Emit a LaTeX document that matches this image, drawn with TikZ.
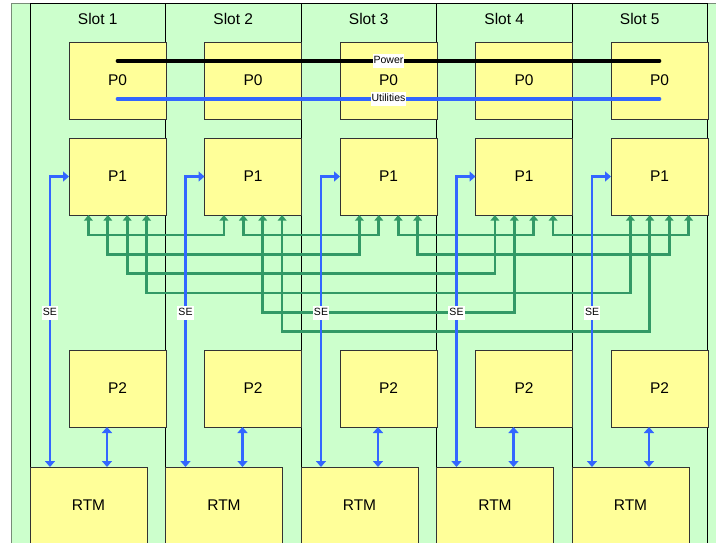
\documentclass[tikz,border=0pt]{standalone}
\usepackage{fontspec}
\setmainfont{Liberation Sans}
\usetikzlibrary{positioning}
\usetikzlibrary{arrows.meta}
\usetikzlibrary{calc}
\definecolor{figVerde}{RGB}{204,255,204}
\definecolor{figAmarillo}{RGB}{255,255,153}
\definecolor{figAzulBorde}{RGB}{51,102,255}
\definecolor{figVerdeBorde}{RGB}{51,153,102}
\definecolor{figGrisBorde}{RGB}{120,140,120}
\tikzset{
  chasis/.style={
    rectangle, draw=figGrisBorde, fill=figVerde, line width=0.8pt,
    minimum width=720pt, minimum height=560pt, inner sep=0pt, outer sep=0pt
  },
  ranura/.style={
    rectangle, draw=black, line width=0.7pt, fill=figVerde,
    minimum width=135.5pt, minimum height=560pt, inner sep=0pt, outer sep=0pt
  },
  titulo/.style={font=\fontsize{15.5}{18}\selectfont, inner sep=0pt},
  caja/.style={
    rectangle, draw=black!80, line width=0.7pt, fill=figAmarillo,
    minimum width=97pt, minimum height=77pt, inner sep=0pt, outer sep=0pt,
    font=\fontsize{15.5}{18}\selectfont
  },
  etiqueta/.style={
    fill=white, inner xsep=1pt, inner ysep=1.5pt, text height=8pt, text depth=2.5pt,
    font=\fontsize{10.5}{12}\selectfont
  },
  flecha/.style={{Triangle[length=6pt,width=10pt]}-{Triangle[length=6pt,width=10pt]},
    line width=2.7pt, draw=figAzulBorde},
  flechav/.style={{Triangle[length=5.5pt,width=8.5pt]}-{Triangle[length=5.5pt,width=8.5pt]},
    line width=2.7pt, draw=figVerdeBorde},
  bus/.style={line width=3.6pt, line cap=round}
}
\begin{document}
\begin{tikzpicture}[x=1pt, y=1pt]
  \useasboundingbox (0,0) rectangle (716,-542);
  % Bastidor y ranuras
  \node[chasis, anchor=north west] (bastidor) at (11,-3) {};
  \node[ranura, anchor=north west] (r1) at (30,-3) {};
  \node[ranura, right=0pt of r1] (r2) {};
  \node[ranura, right=0pt of r2] (r3) {};
  \node[ranura, right=0pt of r3] (r4) {};
  \node[ranura, right=0pt of r4] (r5) {};

  \node[titulo, below=10pt of r1.north] (t1) {Slot 1};
  \node[titulo, below=10pt of r2.north] (t2) {Slot 2};
  \node[titulo, below=10pt of r3.north] (t3) {Slot 3};
  \node[titulo, below=10pt of r4.north] (t4) {Slot 4};
  \node[titulo, below=10pt of r5.north] (t5) {Slot 5};

  % Fila P0 con alimentación y utilidades
  \node[caja, below right=39pt and 39pt of r1.north west] (p0a) {P0};
  \node[caja, right=38.5pt of p0a] (p0b) {P0};
  \node[caja, right=38.5pt of p0b] (p0c) {P0};
  \node[caja, right=38.5pt of p0c] (p0d) {P0};
  \node[caja, right=38.5pt of p0d] (p0e) {P0};

  \draw[bus, draw=black] ($(p0a.center)+(0,19.5)$) -- node[etiqueta] (power) {Power} ($(p0e.center)+(0,19.5)$);
  \draw[bus, draw=figAzulBorde] ($(p0a.center)+(0,-18.5)$) -- node[etiqueta] (util) {Utilities} ($(p0e.center)+(0,-18.5)$);

  % Fila P1
  \node[caja, below=19pt of p0a] (p1a) {P1};
  \node[caja, below=19pt of p0b] (p1b) {P1};
  \node[caja, below=19pt of p0c] (p1c) {P1};
  \node[caja, below=19pt of p0d] (p1d) {P1};
  \node[caja, below=19pt of p0e] (p1e) {P1};

  % Malla entre los P1
  \draw[flechav] ($(p1a.south west)+(19.4,0)$) -- ++(0,-20) -| ($(p1b.south west)+(19.4,0)$);
  \draw[flechav] ($(p1b.south west)+(38.8,0)$) -- ++(0,-20) -| ($(p1c.south west)+(38.8,0)$);
  \draw[flechav] ($(p1c.south west)+(58.2,0)$) -- ++(0,-20) -| ($(p1d.south west)+(58.2,0)$);
  \draw[flechav] ($(p1d.south west)+(77.6,0)$) -- ++(0,-20) -| ($(p1e.south west)+(77.6,0)$);
  \draw[flechav] ($(p1a.south west)+(38.8,0)$) -- ++(0,-39.3) -| ($(p1c.south west)+(19.4,0)$);
  \draw[flechav] ($(p1c.south west)+(77.6,0)$) -- ++(0,-39.3) -| ($(p1e.south west)+(58.2,0)$);
  \draw[flechav] ($(p1a.south west)+(58.2,0)$) -- ++(0,-58.6) -| ($(p1d.south west)+(19.4,0)$);
  \draw[flechav] ($(p1a.south west)+(77.6,0)$) -- ++(0,-77.9) -| ($(p1e.south west)+(19.4,0)$);
  \draw[flechav] ($(p1b.south west)+(58.2,0)$) -- ++(0,-97.2) -| ($(p1d.south west)+(38.8,0)$);
  \draw[flechav] ($(p1b.south west)+(77.6,0)$) -- ++(0,-116.5) -| ($(p1e.south west)+(38.8,0)$);

  % Filas P2 y RTM
  \node[caja, below=135pt of p1a] (p2a) {P2};
  \node[caja, below=135pt of p1b] (p2b) {P2};
  \node[caja, below=135pt of p1c] (p2c) {P2};
  \node[caja, below=135pt of p1d] (p2d) {P2};
  \node[caja, below=135pt of p1e] (p2e) {P2};

  \node[caja, minimum width=117pt, below right=464pt and 0pt of r1.north west] (rtma) {RTM};
  \node[caja, minimum width=117pt, right=18.5pt of rtma] (rtmb) {RTM};
  \node[caja, minimum width=117pt, right=18.5pt of rtmb] (rtmc) {RTM};
  \node[caja, minimum width=117pt, right=18.5pt of rtmc] (rtmd) {RTM};
  \node[caja, minimum width=117pt, right=18.5pt of rtmd] (rtme) {RTM};

  % Enlaces SE y P2-RTM
  \draw[flecha] (p1a.west) -| node[etiqueta, pos=0.735] (sea) {SE} ($(rtma.north west)+(20,0)$);
  \draw[flecha] (p1b.west) -| node[etiqueta, pos=0.735] (seb) {SE} ($(rtmb.north west)+(20,0)$);
  \draw[flecha] (p1c.west) -| node[etiqueta, pos=0.735] (sec) {SE} ($(rtmc.north west)+(20,0)$);
  \draw[flecha] (p1d.west) -| node[etiqueta, pos=0.735] (sed) {SE} ($(rtmd.north west)+(20,0)$);
  \draw[flecha] (p1e.west) -| node[etiqueta, pos=0.735] (see) {SE} ($(rtme.north west)+(20,0)$);

  \draw[flecha] ($(p2a.south west)+(38,0)$) -- ($(rtma.north west)+(77,0)$);
  \draw[flecha] ($(p2b.south west)+(38,0)$) -- ($(rtmb.north west)+(77,0)$);
  \draw[flecha] ($(p2c.south west)+(38,0)$) -- ($(rtmc.north west)+(77,0)$);
  \draw[flecha] ($(p2d.south west)+(38,0)$) -- ($(rtmd.north west)+(77,0)$);
  \draw[flecha] ($(p2e.south west)+(38,0)$) -- ($(rtme.north west)+(77,0)$);
\end{tikzpicture}
\end{document}
